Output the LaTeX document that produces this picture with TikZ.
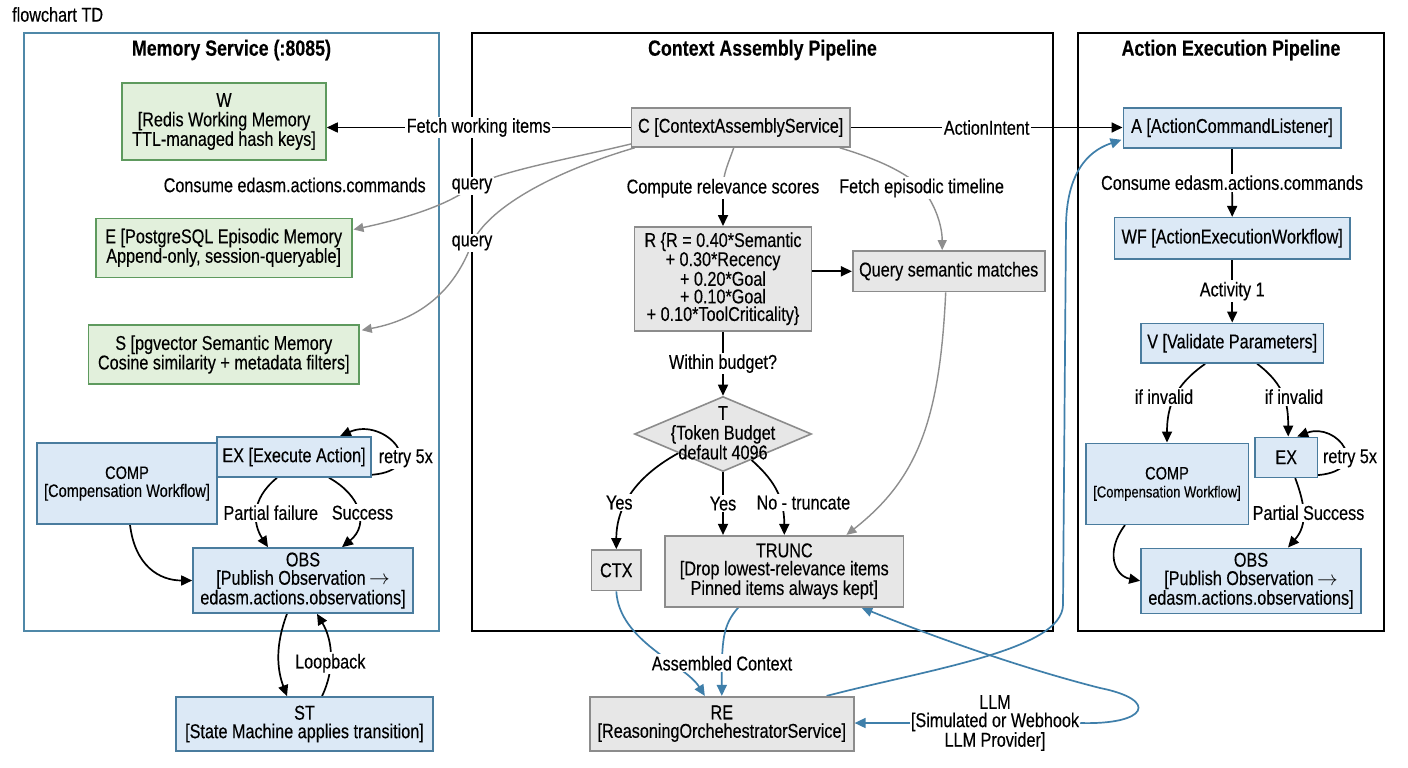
\documentclass[tikz,border=0pt]{standalone}
\usepackage{fontspec}
\setmainfont{Liberation Sans}[FakeStretch=0.81, FakeBold=0.3]
\usetikzlibrary{arrows.meta,shapes.geometric,calc}
\definecolor{gfill}{HTML}{E2F0DC}
\definecolor{gdraw}{HTML}{5E9A5E}
\definecolor{bfill}{HTML}{DCE9F6}
\definecolor{bdraw}{HTML}{4A7C9E}
\definecolor{xfill}{HTML}{E7E7E7}
\definecolor{xdraw}{HTML}{8C8C8C}
\definecolor{bedge}{HTML}{3F7FAA}
\definecolor{gedge}{HTML}{8E8E8E}
\definecolor{mborder}{HTML}{4F88A8}
\pgfdeclarelayer{bg}
\pgfdeclarelayer{edges}
\pgfsetlayers{bg,edges,main}
\newcommand{\fs}{\fontsize{20}{17.5}\selectfont}
\newcommand{\rarr}{\,$\rightarrow$}
\begin{document}
\begin{tikzpicture}[x=1pt,y=-1pt,
  every node/.style={font=\fs, text=black},
  box/.style={draw, line width=1.6pt, inner sep=0pt, align=center},
  gbox/.style={box, fill=gfill, draw=gdraw, font=\fontsize{20}{19.5}\selectfont},
  bbox/.style={box, fill=bfill, draw=bdraw},
  xbox/.style={box, fill=xfill, draw=xdraw},
  lbl/.style={fill=white, inner sep=1.5pt, align=center},
  ttl/.style={font=\bfseries\fontsize{22}{22}\selectfont},
  kline/.style={draw=black, line width=1.7pt},
  karrow/.style={kline, -{Triangle[length=11pt,width=10pt]}},
  gline/.style={draw=gedge, line width=1.4pt},
  garrow/.style={gline, -{Triangle[length=10pt,width=9pt]}},
  bline/.style={draw=bedge, line width=1.7pt},
  barrow/.style={bline, -{Triangle[length=11pt,width=10pt]}},
]
\useasboundingbox (0,0) rectangle (1408,768);

% clusters
\begin{pgfonlayer}{bg}
\fill[white] (0,0) rectangle (1408,768);
\draw[mborder, line width=1.3pt] (24,33) rectangle (439,631);
\draw[black, line width=1.5pt] (472,33) rectangle (1053,631);
\draw[black, line width=1.5pt] (1078,33) rectangle (1384,631);
\end{pgfonlayer}

\node[anchor=west, font=\fontsize{20}{20}\selectfont, inner sep=0pt] (hdr) at (12,14.5) {flowchart TD};
\node[ttl] (t1) at (231.5,50) {Memory Service (:8085)};
\node[ttl] (t2) at (762.5,50) {Context Assembly Pipeline};
\node[ttl] (t3) at (1231,50) {Action Execution Pipeline};

% memory service nodes
\node[gbox, minimum width=204, minimum height=77] (W) at (224,121.5) {W\\{}[Redis Working Memory\\TTL-managed hash keys]};
\node[gbox, minimum width=256, minimum height=59] (E) at (223.7,247.8) {E [PostgreSQL Episodic Memory\\Append-only, session-queryable]};
\node[gbox, minimum width=270.3, minimum height=59] (S) at (223.8,354.5) {S [pgvector Semantic Memory\\Cosine similarity + metadata filters]};
\node[bbox, minimum width=180, minimum height=81, font=\fontsize{18}{18}\selectfont] (COMPL) at (127,483.5) {COMP\\{}[Compensation Workflow]};
\node[bbox, minimum width=154, minimum height=40] (EXL) at (294,457) {EX [Execute Action]};
\node[bbox, minimum width=220, minimum height=65, font=\fontsize{20}{18.3}\selectfont] (OBSL) at (303,580.5) {OBS\\{}[Publish Observation\rarr\\edasm.actions.observations]};
\node[bbox, minimum width=257, minimum height=54, font=\fontsize{20}{18.5}\selectfont] (ST) at (304.5,724) {ST\\{}[State Machine applies transition]};

% context assembly nodes
\node[xbox, minimum width=218.5, minimum height=39] (C) at (740.7,127.5) {C [ContextAssemblyService]};
\node[xbox, minimum width=177, minimum height=104, font=\fontsize{20}{17.6}\selectfont] (R) at (723,278.8) {R \{R = 0.40*Semantic\\+ 0.30*Recency\\+ 0.20*Goal\\+ 0.10*Goal\\+ 0.10*ToolCriticality\}};
\node[xbox, minimum width=192, minimum height=40.7] (Q) at (948.7,271.3) {Query semantic matches};
\node[xbox, shape=diamond, minimum width=177, minimum height=75] (T) at (723,434) {\raisebox{-6.5pt}[0pt][0pt]{\makebox[0pt]{\begin{tabular}{@{}c@{}}T\\\{Token Budget\\default 4096\end{tabular}}}};
\node[xbox, minimum width=49.3, minimum height=40.7] (CTX) at (616.3,570.3) {CTX};
\node[xbox, minimum width=238.6, minimum height=71, font=\fontsize{20}{18}\selectfont] (TRUNC) at (784.3,571.2) {TRUNC\\{}[Drop lowest-relevance items\\Pinned items always kept]};
\node[xbox, minimum width=264, minimum height=54, font=\fontsize{20}{18.5}\selectfont] (RE) at (721.8,723.7) {RE\\{}[ReasoningOrchehestratorService]};
\node[align=center, inner sep=1pt, font=\fontsize{20}{18.2}\selectfont] (LLM) at (995,723) {LLM\\{}[Simulated or Webhook\\LLM Provider]};

% action execution nodes
\node[bbox, minimum width=217.4, minimum height=40] (A) at (1232,127.7) {A [ActionCommandListener]};
\node[bbox, minimum width=235.7, minimum height=41.3] (WF) at (1232.2,238.3) {WF [ActionExecutionWorkflow]};
\node[bbox, minimum width=182.3, minimum height=39.7] (V) at (1232.2,343.2) {V [Validate Parameters]};
\node[bbox, minimum width=162.6, minimum height=81, font=\fontsize{18}{18}\selectfont] (COMPR) at (1167,483.8) {COMP\\{\fontsize{16}{18}\selectfont[Compensation Workflow]}};
\node[bbox, minimum width=62.3, minimum height=40] (EXR) at (1286.2,457.3) {EX};
\node[bbox, minimum width=220, minimum height=65, font=\fontsize{20}{18.3}\selectfont] (OBSR) at (1251,580.8) {OBS\\{}[Publish Observation\rarr\\edasm.actions.observations]};

% free labels
\node (consL) at (294.7,185) {Consume edasm.actions.commands};
\node[lbl] (q1) at (472,186) {query};
\node[lbl] (q2) at (472,243) {query};
\node[lbl] (lR) at (723,188.3) {Compute relevance scores};
\node[lbl] (lF) at (921.6,188) {Fetch episodic timeline};
\node[lbl] (y1) at (619.3,502.7) {Yes};
\node[lbl] (nt) at (803.4,502.7) {No - truncate};
\node[lbl] (ac) at (722,663.3) {Assembled Context};
\node[lbl] (ivL) at (1164,396.7) {if invalid};
\node[lbl] (ivR) at (1294,396.7) {if invalid};
\node[lbl] (rtR) at (1350,458.3) {retry 5x};
\node[lbl] (ps) at (1308.5,512.7) {Partial Success};
\node[lbl] (rtL) at (405.8,458.3) {retry 5x};
\node[lbl] (pf) at (270.8,512.7) {Partial failure};
\node[lbl] (sc) at (362.5,512.7) {Success};
\node[lbl] (lb) at (330.3,663.3) {Loopback};

\coordinate (bv1) at (1063,605);
\coordinate (bv2) at (1066,225);

\begin{pgfonlayer}{edges}
% C edges
\draw[karrow] (C.west) -- node[lbl, midway] {Fetch working items} (C.west -| W.east);
\draw[karrow] (C.east) -- node[lbl, midway] {ActionIntent} (C.east -| A.west);
\draw[gline] ($(C.south west)+(1,-4)$) .. controls +(-62,15) and +(33,-16) .. (q1.center);
\draw[garrow] (q1.center) .. controls +(-22,19) and +(48,-10) .. ($(E.north east)+(1,12)$);
\draw[gline] ($(C.south west)+(4,0)$) .. controls +(-75,22) and +(18,-38) .. (q2.center);
\draw[garrow] (q2.center) .. controls +(-17,47) and +(59,-11) .. ($(S.north east)+(2,6)$);
\draw[gline] ($(C.south)+(-7,0)$) .. controls +(-5,15) and +(0,-15) .. (lR.center);
\draw[karrow] (lR.south) -- (R.north);
\draw[gline] ($(C.south east)+(-11,0)$) .. controls +(40,12) and +(-15,-15) .. (lF.center);
\draw[garrow] (lF.center) .. controls +(13,15) and +(0,-25) .. ($(Q.north)+(-6.5,0)$);
\draw[karrow] (R.east |- Q.west) -- (Q.west);
\draw[garrow] ($(Q.south)+(-3,0)$) .. controls +(-6,130) and +(70,-55) .. ($(TRUNC.north east)+(-58,0)$);
\draw[karrow] (R.south) -- node[lbl, midway] {Within budget?} (T.north);
\draw[karrow] ($(T.south)!0.5!(T.west)$) .. controls +(-40,22) and +(0,-45) .. (CTX.north);
\draw[karrow] (T.south) -- node[lbl, midway] {Yes} (T.south |- TRUNC.north);
\draw[karrow] ($(T.south)!0.32!(T.east)$) .. controls +(20,18) and +(0,-40) .. (TRUNC.north);
\draw[barrow] (CTX.south) .. controls +(3,50) and +(-20,-32) .. ($(RE.north)+(-17,0)$);
\draw[barrow] ($(TRUNC.south)+(-46,0)$) .. controls +(-16,18) and +(0,-55) .. (RE.north);
\draw[barrow] ($(RE.north east)+(-28,0)$) .. controls +(104,-27) and +(-1,45) .. (bv1) -- (bv2) .. controls +(1,-60) and +(-27,9) .. ($(A.south west)+(-1,-8.7)$);
\draw[barrow] (LLM.west) -- (RE.east |- LLM.west);
\draw[barrow] (LLM.east) .. controls +(67,2) and +(60,12) .. (1100,688) .. controls +(-90,-23) and +(59,24) .. ($(TRUNC.south east)+(-43,0)$);
% action pipeline
\draw[karrow] (A.south) -- node[lbl, midway] {Consume edasm.actions.commands} (WF.north);
\draw[karrow] (WF.south) -- node[lbl, midway] {Activity 1} (V.north);
\draw[karrow] ($(V.south)+(-27,0)$) .. controls +(-30,21) and +(0,-37) .. (COMPR.north);
\draw[karrow] ($(V.south)+(25,0)$) .. controls +(28,21) and +(0,-32) .. ($(EXR.north)+(2,0)$);
\draw[karrow] ($(EXR.south east)+(0,-3)$) .. controls +(55,-5) and +(40,-15) .. ($(EXR.north)+(11,0)$);
\draw[karrow] ($(EXR.south)+(9,0)$) .. controls +(10,27) and +(20,-23) .. ($(OBSR.north)+(37,0)$);
\draw[karrow] ($(COMPR.south)+(-42,0)$) .. controls +(-20,26) and +(-26,-5) .. (OBSR.west);
% memory service
\draw[karrow] ($(EXL.south east)+(0,-3)$) .. controls +(60,-5) and +(45,-20) .. ($(EXL.north)+(46,0)$);
\draw[karrow] ($(EXL.south)+(-17,0)$) .. controls +(-27,22) and +(-15,-23) .. ($(OBSL.north)+(-35,0)$);
\draw[karrow] ($(EXL.south)+(35,0)$) .. controls +(31,17) and +(28,-23) .. ($(OBSL.north)+(39,0)$);
\draw[karrow] ($(COMPL.south)+(3,0)$) .. controls +(5,41) and +(-33,0) .. (OBSL.west);
\draw[karrow] ($(OBSL.south)+(-16,0)$) .. controls +(-12,32) and +(-10,-27) .. ($(ST.north)+(-17.5,0)$);
\draw[karrow] ($(ST.north)+(17.5,0)$) .. controls +(13,-27) and +(16,27) .. ($(OBSL.south)+(14,0)$);
\end{pgfonlayer}
\end{tikzpicture}
\end{document}
